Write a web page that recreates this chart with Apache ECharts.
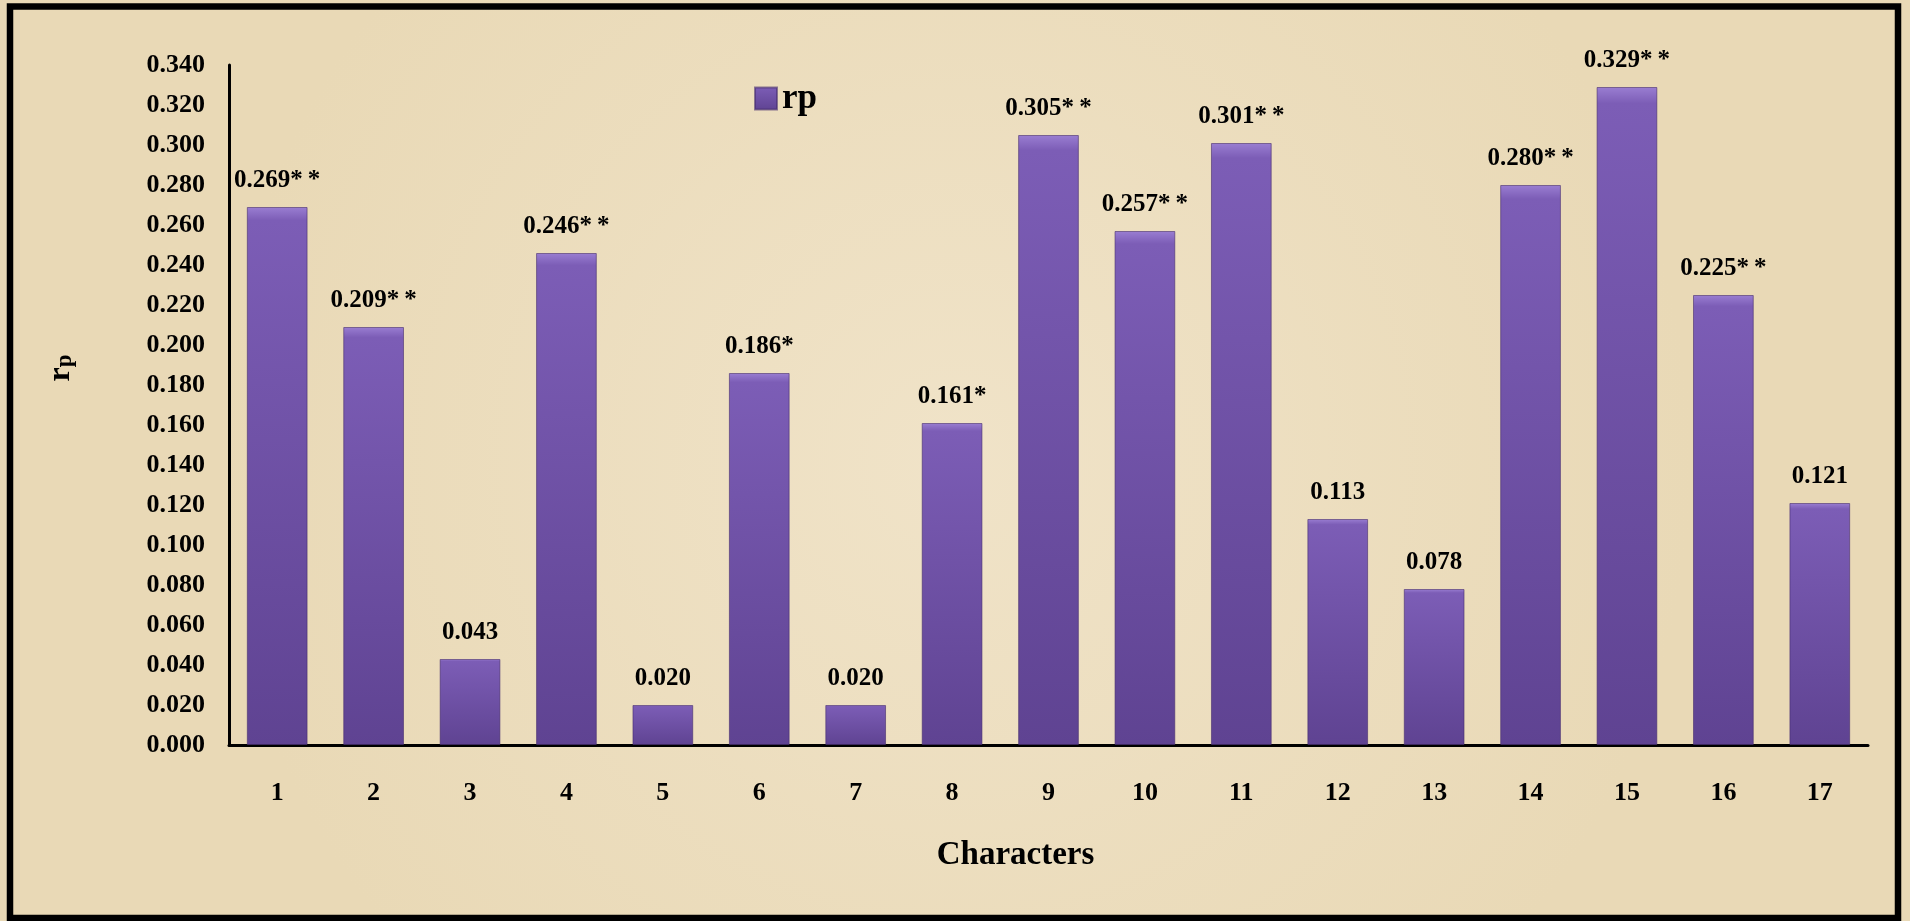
<!DOCTYPE html>
<html>
<head>
<meta charset="utf-8">
<script src="https://cdn.jsdelivr.net/npm/echarts@6/dist/echarts.min.js"></script>
<style>
html,body{margin:0;padding:0;background:#eddfc2;}
#chart{width:1910px;height:921px;}
</style>
</head>
<body>
<div id="chart"></div>
<script>
const categories = ['1','2','3','4','5','6','7','8','9','10','11','12','13','14','15','16','17'];
const rpValues = [0.269,0.209,0.043,0.246,0.020,0.186,0.020,0.161,0.305,0.257,0.301,0.113,0.078,0.280,0.329,0.225,0.121];
const significance = ['**','**','','**','','*','','*','**','**','**','','','**','**','**',''];
const yTicks = {min:0, max:0.34, interval:0.02};

const font = '"Liberation Serif", "Times New Roman", serif';
const chart = echarts.init(document.getElementById('chart'));
chart.setOption({
  backgroundColor: {
    type: 'radial', x: 0.5, y: 0.5, r: 0.8,
    colorStops: [{offset:0,color:'#f0e3c8'},{offset:1,color:'#e9d9b6'}]
  },
  animation: false,
  textStyle: {fontFamily: font},
  graphic: [{
    type: 'rect', shape: {x:10, y:6.5, width:1888, height:911.5},
    style: {fill:'none', stroke:'#000', lineWidth:6.5}, z: 100
  }],
  legend: {
    data: ['rp'], left: 749, top: 76, itemWidth: 22, itemHeight: 22,
    icon: 'rect',
    textStyle: {fontFamily: font, fontWeight: 'bold', fontSize: 35, color: '#000'}
  },
  grid: {left: 229, right: 42, top: 65, bottom: 176, containLabel: false},
  xAxis: {
    type: 'category', data: categories,
    axisLine: {lineStyle: {color: '#000', width: 3}},
    axisTick: {show: false},
    axisLabel: {margin: 35, color: '#000', fontFamily: font, fontWeight: 'bold', fontSize: 26},
    name: 'Characters', nameLocation: 'middle', nameGap: 94,
    nameTextStyle: {color: '#000', fontFamily: font, fontWeight: 'bold', fontSize: 33, padding: [0, 66, 0, 0]}
  },
  yAxis: {
    type: 'value', min: yTicks.min, max: yTicks.max, interval: yTicks.interval,
    axisLine: {show: true, lineStyle: {color: '#000', width: 3}},
    axisTick: {show: false},
    splitLine: {show: false},
    axisLabel: {margin: 24, color: '#000', fontFamily: font, fontWeight: 'bold', fontSize: 26,
      formatter: v => v.toFixed(3)},
    name: '{r|r}{p|p}', nameLocation: 'middle', nameRotate: 90, nameGap: 152,
    nameTextStyle: {
      padding: [0, 0, 0, 74],
      rich: {
        r: {fontFamily: font, fontWeight: 'bold', fontSize: 32, color: '#000', verticalAlign: 'bottom'},
        p: {fontFamily: font, fontWeight: 'bold', fontSize: 23, color: '#000', verticalAlign: 'top', padding: [14,0,0,0]}
      }
    }
  },
  series: [{
    name: 'rp', type: 'bar', data: rpValues, barWidth: '63%',
    itemStyle: {
      color: {
        type: 'linear', x: 0, y: 0, x2: 0, y2: 1,
        colorStops: [{offset:0,color:'#9a7ed2'},{offset:0.025,color:'#7c5db6'},{offset:1,color:'#5f4392'}]
      },
      borderColor: 'rgba(70,45,110,0.6)', borderWidth: 1
    },
    label: {
      show: true, position: 'top', distance: 14, color: '#000',
      fontFamily: font, fontWeight: 'bold', fontSize: 25,
      formatter: p => p.value.toFixed(3) + significance[p.dataIndex].split('').join('\u2009')
    }
  }]
});
</script>
</body>
</html>
